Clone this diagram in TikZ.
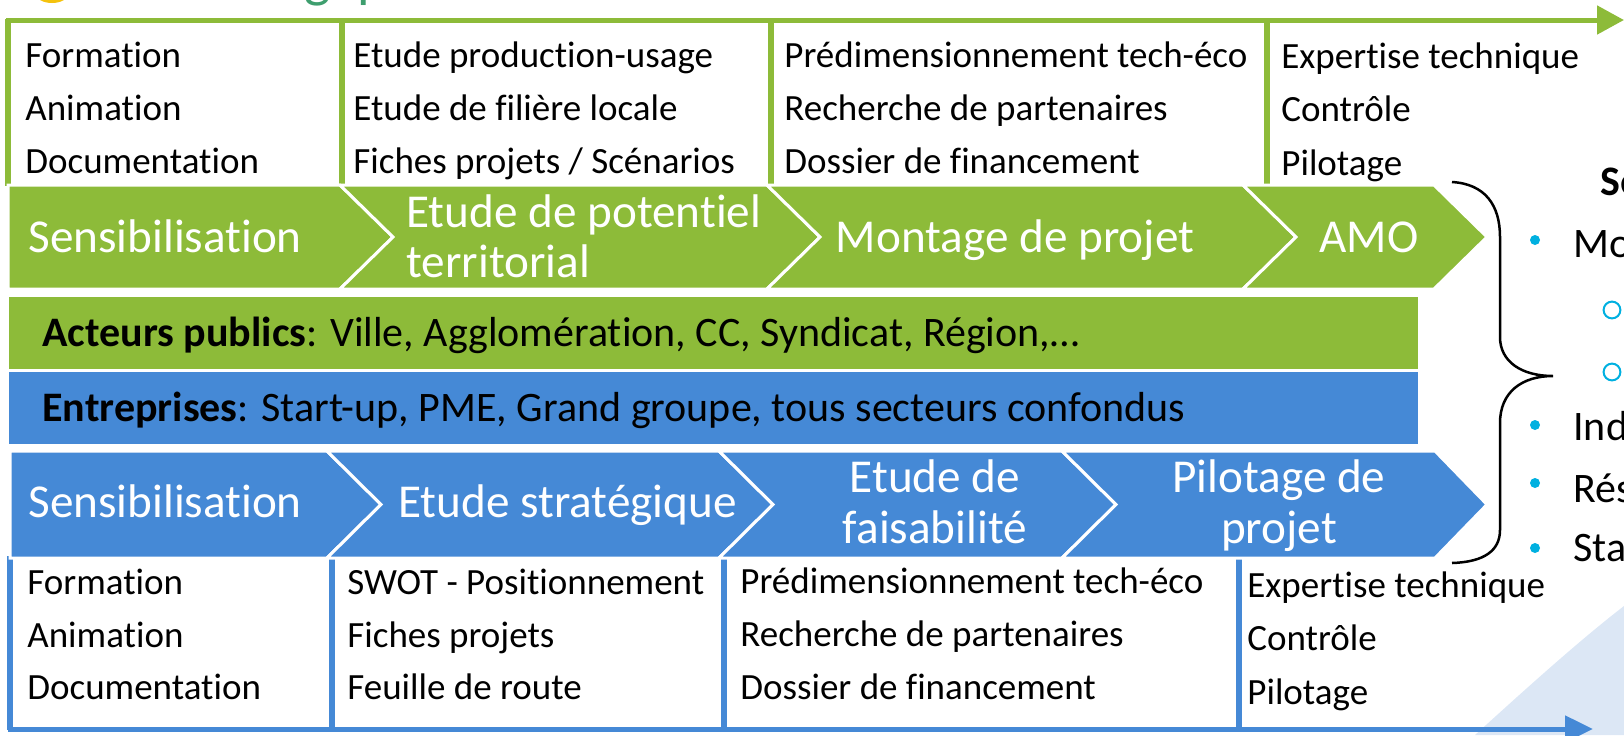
\documentclass[tikz,border=0pt]{standalone}
\usepackage{fontspec}
\setmainfont{Carlito}[Ligatures=CommonOff]
\usetikzlibrary{arrows.meta}
\definecolor{vert}{HTML}{8DBB39}
\definecolor{bleu}{HTML}{4589D6}
\definecolor{cyanb}{HTML}{00B0E0}
\definecolor{paleblue}{HTML}{DCE7F5}
\definecolor{logoyel}{HTML}{F4C20D}
\definecolor{logogreen}{HTML}{3E9E6E}
\begin{document}
\begin{tikzpicture}[x=0.5pt,y=-0.5pt,
  boxtxt/.style={anchor=base west, inner sep=0pt, font=\fontsize{18.5}{22}\selectfont},
  chevtxt/.style={inner sep=0pt, text=white, font=\fontsize{23.6}{28}\selectfont},
  bartxt/.style={anchor=base west, inner sep=0pt, font=\fontsize{21}{24}\selectfont},
  sidetxt/.style={anchor=base west, inner sep=0pt, font=\fontsize{21}{24}\selectfont},
  gchev/.style={fill=vert, draw=white, line width=1.5pt, line join=miter},
  bchev/.style={fill=bleu, draw=white, line width=1.5pt, line join=miter},
  gsep/.style={draw=vert, line width=2.75pt},
  bsep/.style={draw=bleu, line width=2.75pt}]
\useasboundingbox (0,0) rectangle (1624,735);
\clip (0,0) rectangle (1624,735);
% pale background shape
\fill[paleblue] (1475,735) .. controls (1530,685) and (1580,640) .. (1624,606) -- (1624,735) -- cycle;
% remnants of logo at the top
\fill[logoyel] (52,-6) ellipse (8pt and 4.5pt);
\node[anchor=base, inner sep=0pt, text=logogreen, font=\fontsize{28}{30}\selectfont] (lg) at (318,-4) {g};
\node[anchor=base west, inner sep=0pt, text=logogreen, font=\fontsize{28}{30}\selectfont] (lp) at (357,-4) {p};
% top timeline arrow
\coordinate (ta0) at (6,20);
\coordinate (ta1) at (1624,20);
\draw[vert, line width=2.5pt, -{Triangle[length=13.5pt,width=14pt]}] (ta0) -- (ta1);
\foreach \x in {8,342,771,1267} \draw[gsep] (\x,19) -- (\x,186);
% bottom timeline arrow
\coordinate (ba0) at (8,729);
\coordinate (ba1) at (1593,729);
\draw[bleu, line width=2.5pt, -{Triangle[length=14pt,width=13pt]}] (ba0) -- (ba1);
\foreach \x in {10,332,724,1239} \draw[bsep] (\x,556) -- (\x,730);
% green chevrons
\draw[gchev] (8,185) -- (340,185) -- (393,237) -- (340,289) -- (8,289) -- cycle;
\draw[gchev] (340,185) -- (767,185) -- (820,237) -- (767,289) -- (340,289) -- (393,237) -- cycle;
\draw[gchev] (767,185) -- (1243,185) -- (1296,237) -- (1243,289) -- (767,289) -- (820,237) -- cycle;
\draw[gchev] (1243,185) -- (1434,185) -- (1487,237) -- (1434,289) -- (1243,289) -- (1296,237) -- cycle;
% blue chevrons
\draw[bchev] (10,451) -- (327,451) -- (381,504.5) -- (327,558) -- (10,558) -- cycle;
\draw[bchev] (327,451) -- (719,451) -- (773,504.5) -- (719,558) -- (327,558) -- (381,504.5) -- cycle;
\draw[bchev] (719,451) -- (1062,451) -- (1116,504.5) -- (1062,558) -- (719,558) -- (773,504.5) -- cycle;
\draw[bchev] (1062,451) -- (1435,451) -- (1487,504.5) -- (1435,558) -- (1062,558) -- (1116,504.5) -- cycle;
% bars
\fill[vert] (9,297) rectangle (1418,369);
\fill[bleu] (9,372) rectangle (1418,444);
\node[bartxt] (acteurs) at (42,346) {\textbf{Acteurs publics}: Ville, Agglomération, CC, Syndicat, Région,…};
\node[bartxt] (entrep) at (42,421) {\textbf{Entreprises}: Start-up, PME, Grand groupe, tous secteurs confondus};
% green chevron texts
\node[chevtxt, anchor=base west] (g1) at (28,252) {Sensibilisation};
\node[chevtxt, anchor=base west] (g2a) at (406,227) {Etude de potentiel};
\node[chevtxt, anchor=base west] (g2b) at (406,277) {territorial};
\node[chevtxt, anchor=base] (g3) at (1015,252) {Montage de projet};
\node[chevtxt, anchor=base] (g4) at (1369,252) {AMO};
% blue chevron texts
\node[chevtxt, anchor=base west] (b1) at (28,517) {Sensibilisation};
\node[chevtxt, anchor=base west] (b2) at (398,517) {Etude stratégique};
\node[chevtxt, anchor=base] (b3a) at (935,492) {Etude de};
\node[chevtxt, anchor=base] (b3b) at (935,543) {faisabilité};
\node[chevtxt, anchor=base] (b4a) at (1279,492) {Pilotage de};
\node[chevtxt, anchor=base] (b4b) at (1279,543) {projet};
% top box texts
\node[boxtxt] (t11) at (25,67) {Formation};
\node[boxtxt] (t12) at (25,120) {Animation};
\node[boxtxt] (t13) at (25,173) {Documentation};
\node[boxtxt] (t21) at (353,67) {Etude production-usage};
\node[boxtxt] (t22) at (353,120) {Etude de filière locale};
\node[boxtxt] (t23) at (353,173) {Fiches projets / Scénarios};
\node[boxtxt] (t31) at (784,67) {Prédimensionnement tech-éco};
\node[boxtxt] (t32) at (784,120) {Recherche de partenaires};
\node[boxtxt] (t33) at (784,173) {Dossier de financement};
\node[boxtxt] (t41) at (1281,68) {Expertise technique};
\node[boxtxt] (t42) at (1281,121) {Contrôle};
\node[boxtxt] (t43) at (1281,175) {Pilotage};
% bottom box texts
\node[boxtxt] (u11) at (27,594) {Formation};
\node[boxtxt] (u12) at (27,647) {Animation};
\node[boxtxt] (u13) at (27,699) {Documentation};
\node[boxtxt] (u21) at (347,594) {SWOT - Positionnement};
\node[boxtxt] (u22) at (347,647) {Fiches projets};
\node[boxtxt] (u23) at (347,699) {Feuille de route};
\node[boxtxt] (u31) at (740,593) {Prédimensionnement tech-éco};
\node[boxtxt] (u32) at (740,646) {Recherche de partenaires};
\node[boxtxt] (u33) at (740,699) {Dossier de financement};
\node[boxtxt] (u41) at (1247,597) {Expertise technique};
\node[boxtxt] (u42) at (1247,650) {Contrôle};
\node[boxtxt] (u43) at (1247,704) {Pilotage};
% brace
\draw[black, line width=1.25pt] (1452,182) .. controls (1485,184) and (1500,205) .. (1500,237) -- (1500,337) .. controls (1500,362) and (1522,376) .. (1553,376) .. controls (1522,376) and (1500,392) .. (1500,423) -- (1500,530) .. controls (1500,550) and (1485,562) .. (1452,563);
% right side list (cut by the edge)
\node[sidetxt, font=\bfseries\fontsize{21}{24}\selectfont] (se) at (1600,195) {Se};
\fill[cyanb] (1535,240) circle (2.5pt);
\node[sidetxt] (mo) at (1573,257) {Mo};
\draw[cyanb, line width=1pt] (1612,310) circle (4.2pt);
\draw[cyanb, line width=1pt] (1612,372) circle (4.2pt);
\fill[cyanb] (1535,425) circle (2.5pt);
\node[sidetxt] (ind) at (1573,440) {Ind};
\fill[cyanb] (1535,483) circle (2.5pt);
\node[sidetxt] (res) at (1573,502) {Rés};
\fill[cyanb] (1535,548) circle (2.5pt);
\node[sidetxt] (sta) at (1573,561) {Sta};
\end{tikzpicture}
\end{document}
